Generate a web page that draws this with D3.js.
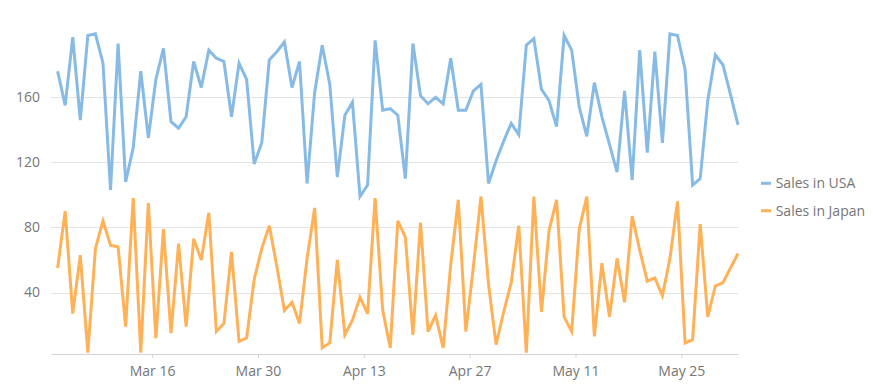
<!DOCTYPE html>
<html><head><meta charset="utf-8">
<script src="https://cdn.jsdelivr.net/npm/d3@7"></script>
<style>
body{margin:0;background:#fff;}
svg{display:block;font-family:"Segoe UI","Open Sans","Noto Sans",sans-serif;}
</style>
</head><body>
<svg id="chart" width="873" height="390"></svg>
<script>
// ---- data ----
const firstDay = "2020-03-03";
const lastDay = "2020-06-01";
const usaSales = [176,155,197,146,198,199,181,103,193,108,129,176,135,171,190,145,141,148,182,166,
  189,184,182,148,181,171,119,132,183,188,194,166,182,107,163,192,168,111,149,157,
  99,106,195,152,153,149,110,193,161,156,160,156,184,152,152,164,168,107,121,133,
  144,137,192,196,165,158,142,198,189,154,136,169,148,131,114,164,109,189,126,188,
  132,199,198,177,106,110,158,186,180,162,143];
const japanSales = [55,90,27,63,3,67,84,69,68,19,98,3,95,12,79,15,70,19,73,60,
  89,16,21,65,10,12,48,67,81,56,29,34,21,61,92,6,9,60,14,23,
  37,27,98,29,6,84,74,14,83,16,26,6,57,97,16,56,99,45,8,28,
  46,81,3,99,28,78,97,25,16,79,99,13,58,25,61,34,87,66,47,49,
  38,61,96,9,11,82,25,44,46,55,64];
const seriesNames = ["Sales in USA","Sales in Japan"];
const seriesColors = ["#87bbe6","#ffb157"];
const yTicks = [40,80,120,160];
const xTickDates = ["2020-03-16","2020-03-30","2020-04-13","2020-04-27","2020-05-11","2020-05-25"];
const xTickLabels = ["Mar 16","Mar 30","Apr 13","Apr 27","May 11","May 25"];

(function () {
  const parse = d3.timeParse("%Y-%m-%d");
  const days = d3.timeDay.range(parse(firstDay), d3.timeDay.offset(parse(lastDay), 1));
  const pointDates = days.map(d => d3.timeHour.offset(d, 12));
  const svg = d3.select("#chart");
  const pLeft = 51, pRight = 738, pTop = 33.5, pBottom = 354;
  const textColor = "#767676";

  const x = d3.scaleTime()
    .domain([d3.timeHour.offset(pointDates[0], -21), pointDates[pointDates.length - 1]])
    .range([pLeft, pRight]);
  const y = d3.scaleLinear().domain([2.2, 199.2]).range([pBottom, pTop]);

  // gridlines
  svg.append("g").selectAll("line").data(yTicks).join("line")
    .attr("x1", pLeft).attr("x2", pRight)
    .attr("y1", d => Math.round(y(d)) + 0.5).attr("y2", d => Math.round(y(d)) + 0.5)
    .attr("stroke", "#e4e4e4").attr("stroke-width", 1);

  // y labels
  svg.append("g").selectAll("text").data(yTicks).join("text")
    .attr("x", 40).attr("y", d => y(d)).attr("dy", "0.35em")
    .attr("text-anchor", "end").attr("font-size", 14).attr("fill", textColor)
    .text(d => d);

  // x axis
  const tickDates = xTickDates.map(parse);
  const xAxis = d3.axisBottom(x).tickValues(tickDates)
    .tickFormat((d, i) => xTickLabels[i]).tickSizeOuter(0).tickSizeInner(4).tickPadding(8);
  const gx = svg.append("g").attr("transform", `translate(0,${pBottom})`).call(xAxis);
  gx.attr("font-family", null).attr("font-size", null);
  gx.select(".domain").attr("stroke", "#d3d3d3");
  gx.selectAll(".tick line").attr("stroke", "#d3d3d3");
  gx.selectAll(".tick text").attr("font-size", 14).attr("fill", textColor);

  // lines
  const line = d3.line().x((d, i) => x(pointDates[i])).y(d => y(d));
  [usaSales, japanSales].forEach((s, k) => {
    svg.append("path").datum(s).attr("d", line)
      .attr("fill", "none").attr("stroke", seriesColors[k]).attr("stroke-width", 3);
  });

  // legend
  const lg = svg.append("g").selectAll("g").data(seriesNames).join("g")
    .attr("transform", (d, i) => `translate(761,${183.3 + i * 27.4})`);
  lg.append("line").attr("x1", 0).attr("x2", 10).attr("y1", 0).attr("y2", 0)
    .attr("stroke", (d, i) => seriesColors[i]).attr("stroke-width", 3);
  lg.append("text").attr("x", 14.7).attr("y", 0).attr("dy", "0.35em")
    .attr("font-size", 14).attr("fill", textColor).text(d => d);
})();
</script>
</body></html>
